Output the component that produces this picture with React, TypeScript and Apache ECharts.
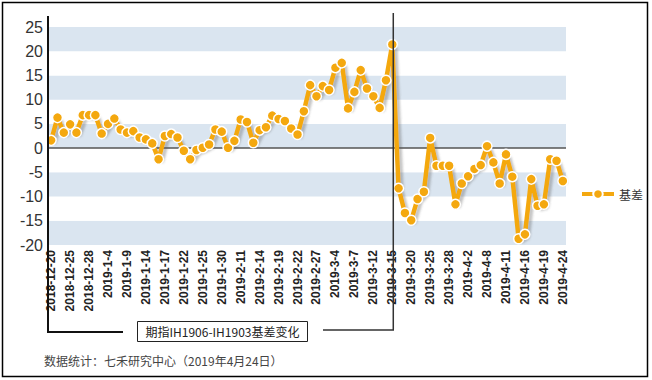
import React, { useEffect, useRef } from "react";
import * as echarts from "echarts";

const categories: string[] = [
  "2018-12-20", "2018-12-21", "2018-12-24", "2018-12-25", "2018-12-26", "2018-12-27", "2018-12-28",
  "2019-1-2", "2019-1-3", "2019-1-4", "2019-1-7", "2019-1-8", "2019-1-9", "2019-1-10", "2019-1-11",
  "2019-1-14", "2019-1-15", "2019-1-16", "2019-1-17", "2019-1-18", "2019-1-21", "2019-1-22", "2019-1-23",
  "2019-1-24", "2019-1-25", "2019-1-28", "2019-1-29", "2019-1-30", "2019-1-31",
  "2019-2-1", "2019-2-11", "2019-2-12", "2019-2-13", "2019-2-14", "2019-2-15", "2019-2-18", "2019-2-19",
  "2019-2-20", "2019-2-21", "2019-2-22", "2019-2-25", "2019-2-26", "2019-2-27", "2019-2-28",
  "2019-3-1", "2019-3-4", "2019-3-5", "2019-3-6", "2019-3-7", "2019-3-8", "2019-3-11", "2019-3-12",
  "2019-3-13", "2019-3-14", "2019-3-15", "2019-3-18", "2019-3-19", "2019-3-20", "2019-3-21", "2019-3-22",
  "2019-3-25", "2019-3-26", "2019-3-27", "2019-3-28", "2019-3-29",
  "2019-4-1", "2019-4-2", "2019-4-3", "2019-4-4", "2019-4-8", "2019-4-9", "2019-4-10", "2019-4-11",
  "2019-4-12", "2019-4-15", "2019-4-16", "2019-4-17", "2019-4-18", "2019-4-19", "2019-4-22", "2019-4-23",
  "2019-4-24",
];

const basisValues: number[] = [
  1.6, 6.3, 3.2, 4.9, 3.2, 6.8, 6.8, 6.8, 3.0, 5.0,
  6.1, 3.85, 3.2, 3.5, 2.2, 1.8, 0.97, -2.3, 2.5, 2.9,
  2.2, -0.55, -2.3, -0.4, 0.07, 0.75, 3.85, 3.4, 0.07, 1.5,
  5.9, 5.4, 1.1, 3.7, 4.3, 6.7, 6.0, 5.6, 4.05, 2.8,
  7.6, 13.0, 10.7, 12.8, 12.0, 16.6, 17.6, 8.2, 11.6, 16.1,
  12.3, 10.7, 8.3, 14.0, 21.4, -8.3, -13.4, -14.9, -10.5, -9.0,
  2.1, -3.65, -3.65, -3.65, -11.6, -7.3, -5.8, -4.3, -3.5, 0.4,
  -2.95, -7.3, -1.3, -5.9, -18.7, -17.8, -6.4, -11.9, -11.6, -2.3,
  -2.6, -6.8,
];

const seriesName = "基差";
const splitDate = "2019-3-15";
const boxTitle = "期指IH1906-IH1903基差变化";
const sourceNote = "数据统计：七禾研究中心（2019年4月24日）";

export default function App() {
  const ref = useRef<HTMLDivElement>(null);

  useEffect(() => {
    document.body.style.margin = "0";
    const chart = echarts.init(ref.current!, null, { renderer: "svg" });
    const orange = "#F4A80F";
    chart.setOption({
      animation: false,
      backgroundColor: "#fff",
      grid: { left: 48, right: 86, top: 27, bottom: 135 },
      legend: {
        data: [seriesName],
        orient: "vertical",
        left: 575,
        top: 183,
        itemWidth: 32,
        itemHeight: 12,
        itemGap: 6,
        lineStyle: { width: 4 },
        textStyle: { fontSize: 12, color: "#333", fontFamily: "Noto Sans CJK SC" },
      },
      xAxis: {
        type: "category",
        data: categories,
        boundaryGap: true,
        axisLine: { show: false },
        axisTick: { show: false },
        axisLabel: {
          interval: 2,
          rotate: 90,
          fontSize: 12,
          fontWeight: "bold",
          margin: 5,
          color: "#222",
          fontFamily: "Liberation Sans",
        },
      },
      yAxis: {
        type: "value",
        min: -20,
        max: 25,
        interval: 5,
        axisLine: { show: false },
        axisTick: { show: false },
        splitLine: { show: false },
        splitArea: { show: true, areaStyle: { color: ["#DAE5F0", "#FFFFFF"] } },
        axisLabel: {
          fontSize: 16,
          margin: 5,
          color: "#333",
          fontFamily: "Liberation Sans",
        },
      },
      series: [
        {
          name: seriesName,
          type: "line",
          data: basisValues,
          symbol: "circle",
          symbolSize: 10,
          showSymbol: true,
          showAllSymbol: true,
          z: 3,
          lineStyle: {
            color: orange,
            width: 4.5,
            shadowColor: "rgba(90,90,90,0.35)",
            shadowOffsetX: 3,
            shadowOffsetY: 3,
            shadowBlur: 2,
          },
          itemStyle: { color: orange, borderColor: "#fff", borderWidth: 1.5 },
          markLine: {
            silent: true,
            symbol: "none",
            label: { show: false },
            lineStyle: { color: "#555", width: 1.5, type: "solid" },
            data: [{ yAxis: 0 }],
            z: 1,
          },
        },
      ],
    });

    const splitX = (chart.convertToPixel({ xAxisIndex: 0 }, splitDate) as number) + 1;
    chart.setOption({
      graphic: [
        {
          type: "rect",
          shape: { x: 2.5, y: 2.5, width: 645, height: 374 },
          style: { fill: "none", stroke: "#000", lineWidth: 1.5 },
          silent: true,
          z: 100,
        },
        {
          type: "polyline",
          shape: { points: [[48, 16], [48, 332], [123, 332]] },
          style: { stroke: "#111", lineWidth: 2, fill: "none" },
          silent: true,
          z: 100,
        },
        {
          type: "polyline",
          shape: { points: [[splitX, 13], [splitX, 330], [323, 330]] },
          style: { stroke: "#333", lineWidth: 1.5, fill: "none" },
          silent: true,
          z: 100,
        },
        {
          type: "rect",
          shape: { x: 137.5, y: 321.5, width: 170, height: 20 },
          style: { fill: "#fff", stroke: "#222", lineWidth: 1 },
          silent: true,
          z: 100,
        },
        {
          type: "text",
          x: 222.5,
          y: 331.5,
          style: {
            text: boxTitle,
            fontSize: 12,
            fill: "#222",
            align: "center",
            verticalAlign: "middle",
            fontFamily: "Noto Sans CJK SC",
          },
          silent: true,
          z: 101,
        },
        {
          type: "text",
          x: 44,
          y: 360,
          style: {
            text: sourceNote,
            fontSize: 12,
            fill: "#444",
            align: "left",
            verticalAlign: "middle",
            fontFamily: "Noto Sans CJK SC",
          },
          silent: true,
          z: 101,
        },
      ],
    });

    return () => chart.dispose();
  }, []);

  return <div ref={ref} style={{ width: 652, height: 380 }} />;
}
